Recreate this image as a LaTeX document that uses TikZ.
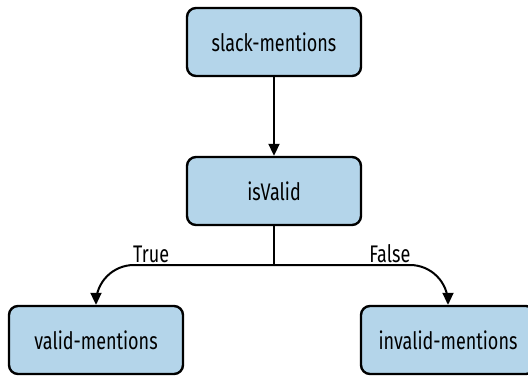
\documentclass[tikz,border=0pt]{standalone}
\usepackage{fontspec}
\usepackage{xcolor}
\usepackage{tikz}
\usetikzlibrary{arrows.meta}
\newfontfamily\diagfont[FakeStretch=0.75]{Fira Sans}
\definecolor{boxblue}{RGB}{180,213,234}

\begin{document}
\begin{tikzpicture}[x=1pt,y=1pt,
    every node/.style={font=\diagfont\fontsize{24}{28}\selectfont},
    stage/.style={draw,line width=2.4pt,fill=boxblue,rounded corners=9pt,minimum width=174pt,minimum height=68pt,inner sep=0pt},
    flow/.style={line width=2pt,-{Triangle[length=12pt,width=11pt]},rounded corners=38pt}]
  \useasboundingbox (0,0) rectangle (528,-376);
  \node[stage] (slack) at (274,-42) {slack-mentions};
  \node[stage] (isvalid) at (274,-191) {isValid};
  \node[stage] (valid) at (96,-340) {valid-mentions};
  \node[stage] (invalid) at (448,-340) {invalid-mentions};
  \coordinate (split) at (274,-265);
  \draw[flow] (slack) -- (isvalid);
  \draw[line width=2pt] (isvalid) -- (split);
  \draw[flow] (split) -| node[pos=0.345,above,inner sep=1pt] {True} (valid);
  \draw[flow] (split) -| node[pos=0.333,above,inner sep=1pt] {False} (invalid);
\end{tikzpicture}
\end{document}
